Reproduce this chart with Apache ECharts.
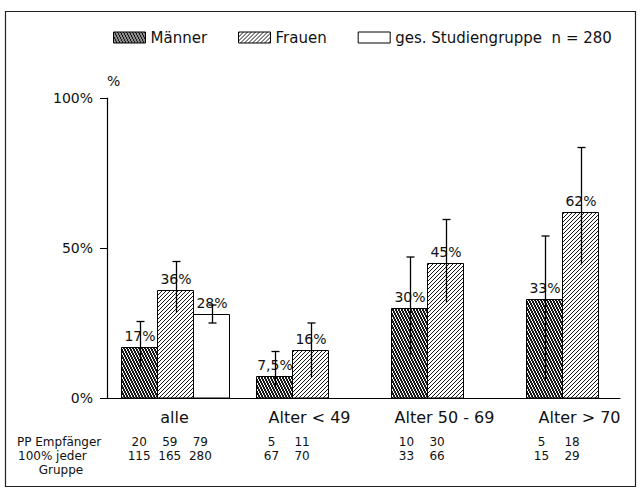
<!DOCTYPE html>
<html><head><meta charset="utf-8">
<script src="https://cdn.jsdelivr.net/npm/echarts@6/dist/echarts.min.js"></script>
<style>html,body{margin:0;padding:0;background:#fff}#c{width:640px;height:489px}</style>
</head><body><div id="c"></div>
<script>
// ---- data ----
const categories = ['alle', 'Alter < 49', 'Alter 50 - 69', 'Alter > 70'];
const yTicks = [0, 50, 100];
const maenner = [17, 7.5, 30, 33];
const maennerLow = [10.5, 3, 14.5, 6];
const maennerHigh = [25.5, 15.5, 47, 54];
const frauen = [36, 16, 45, 62];
const frauenLow = [28.5, 7, 32, 44.5];
const frauenHigh = [45.5, 25, 59.5, 83.5];
const gesamt = [28, null, null, null];
const gesamtLow = [25, null, null, null];
const gesamtHigh = [31, null, null, null];
const maennerPP = [20, 5, 10, 5];
const frauenPP = [59, 11, 30, 18];
const gesamtPP = [79, null, null, null];
const maennerN = [115, 67, 33, 15];
const frauenN = [165, 70, 66, 29];
const gesamtN = [280, null, null, null];
const seriesNames = ['Männer', 'Frauen', 'ges. Studiengruppe  n = 280'];
const rowLabels = ['PP Empfänger', '100% jeder', 'Gruppe'];

// ---- patterns ----
function hatch(w, h, test) {
  const c = document.createElement('canvas'); c.width = w; c.height = h;
  const ctx = c.getContext('2d');
  const img = ctx.createImageData(w, h);
  for (let y = 0; y < h; y++) for (let x = 0; x < w; x++) {
    const v = test(x, y) ? 25 : 255; const i = (y * w + x) * 4;
    img.data[i] = v; img.data[i + 1] = v; img.data[i + 2] = v; img.data[i + 3] = 255;
  }
  ctx.putImageData(img, 0, 0);
  return { image: c, repeat: 'repeat', imageWidth: w, imageHeight: h };
}
const patM = hatch(3, 6, (x, y) => ((((2 * x - y) % 6) + 6) % 6) < 4);
const patF = hatch(4, 4, (x, y) => (x + y) % 4 === 0);
const pats = [patM, patF, '#ffffff'];

const FONT = '"DejaVu Sans", "Liberation Sans", sans-serif';
const slotFrac = 36 / 135;
const fmt = v => String(v).replace('.', ',') + '%';
const ROW1 = 442, ROW2 = 456, ROW3 = 470;

function makeSeries(k, vals, lows, highs, pps, ns) {
  const data = [];
  categories.forEach((c, i) => {
    if (vals[i] != null) data.push([i + 0.5, vals[i], lows[i], highs[i], pps[i], ns[i], i]);
  });
  return {
    type: 'custom', name: seriesNames[k], data: data, encode: { x: 0, y: 1 },
    itemStyle: { color: pats[k], borderColor: '#000', borderWidth: 1 },
    renderItem: function (params, api) {
      const xv = api.value(0), yv = api.value(1);
      const base = api.coord([xv, 0]);
      const top = api.coord([xv, yv]);
      const w = api.size([1, 0])[0] * slotFrac;
      const x0 = Math.round(base[0] + (k - 1.5) * w) + 0.5;
      const cx = Math.round(x0 + w / 2);
      const yl = api.coord([xv, api.value(2)])[1];
      const yh = api.coord([xv, api.value(3)])[1];
      const ci = api.value(6);
      const nBars = gesamt[ci] != null ? 3 : 2;
      const mean = base[0] + (nBars === 3 ? 0 : -0.5) * w;
      const tx = mean + (cx - mean) * 0.85 - 6;
      const children = [
        { type: 'rect', shape: { x: x0, y: Math.round(top[1]) + 0.5, width: Math.round(w), height: base[1] - Math.round(top[1]) - 0.5 },
          style: { fill: pats[k], stroke: '#000', lineWidth: 1 } },
        { type: 'text', style: { text: fmt(yv), x: cx, y: top[1] - 4, textAlign: 'center', textVerticalAlign: 'bottom',
          font: '14px ' + FONT, fill: '#111' } },
        { type: 'line', shape: { x1: cx + 0.5, y1: yh, x2: cx + 0.5, y2: yl }, style: { stroke: '#000', lineWidth: 1.3 } },
        { type: 'line', shape: { x1: cx - 3.5, y1: yh, x2: cx + 4.5, y2: yh }, style: { stroke: '#000', lineWidth: 1.3 } },
        { type: 'text', style: { text: String(api.value(4)), x: tx, y: ROW1, textAlign: 'center', textVerticalAlign: 'middle',
          font: '12px ' + FONT, fill: '#111' } },
        { type: 'text', style: { text: String(api.value(5)), x: tx, y: ROW2, textAlign: 'center', textVerticalAlign: 'middle',
          font: '12px ' + FONT, fill: '#111' } }
      ];
      if (k === 2) {
        children.push({ type: 'line', shape: { x1: cx - 3.5, y1: yl, x2: cx + 4.5, y2: yl }, style: { stroke: '#000', lineWidth: 1.3 } });
      }
      return { type: 'group', children: children };
    }
  };
}

const chart = echarts.init(document.getElementById('c'), null, { renderer: 'svg' });
chart.setOption({
  animation: false,
  backgroundColor: '#fff',
  grid: { left: 107, right: 20, top: 98, bottom: 91 },
  legend: {
    left: 108, top: 25, itemWidth: 32, itemHeight: 11, itemGap: 31, icon: 'rect', selectedMode: false,
    textStyle: { fontFamily: FONT, fontSize: 15, color: '#111' },
    data: seriesNames.map((n, k) => ({ name: n, icon: 'rect', itemStyle: { color: pats[k], borderColor: '#000', borderWidth: 1 } }))
  },
  xAxis: {
    type: 'value', min: 0, max: 3.8, interval: 0.5,
    axisLine: { show: true, lineStyle: { color: '#000', width: 1.2 } },
    axisTick: { show: false }, splitLine: { show: false },
    axisLabel: {
      margin: 11, fontFamily: FONT, fontSize: 16, color: '#111', showMinLabel: true, showMaxLabel: true,
      formatter: function (v) {
        const d = v * 2, r = Math.round(d);
        if (Math.abs(d - r) > 1e-6 || r % 2 !== 1) return '';
        return categories[(r - 1) / 2] || '';
      }
    }
  },
  yAxis: {
    type: 'value', min: yTicks[0], max: yTicks[yTicks.length - 1], interval: yTicks[1] - yTicks[0],
    name: '%', nameLocation: 'end', nameGap: 10,
    nameTextStyle: { fontFamily: FONT, fontSize: 14, color: '#111', align: 'left' },
    axisLine: { show: true, lineStyle: { color: '#000', width: 1.2 } },
    axisTick: { show: true, length: 7, lineStyle: { color: '#000' } },
    splitLine: { show: false },
    axisLabel: { margin: 14, fontFamily: FONT, fontSize: 14, color: '#111', formatter: '{value}%' }
  },
  graphic: [
    { type: 'rect', shape: { x: 5.5, y: 11.5, width: 630, height: 475 }, style: { fill: 'none', stroke: '#222', lineWidth: 1.2 }, silent: true },
    { type: 'text', x: 17, y: ROW1, style: { text: rowLabels[0], font: '12px ' + FONT, fill: '#111', textVerticalAlign: 'middle' } },
    { type: 'text', x: 18, y: ROW2, style: { text: rowLabels[1], font: '12px ' + FONT, fill: '#111', textVerticalAlign: 'middle' } },
    { type: 'text', x: 61, y: ROW3, style: { text: rowLabels[2], font: '12px ' + FONT, fill: '#111', textAlign: 'center', textVerticalAlign: 'middle' } }
  ],
  series: [
    makeSeries(0, maenner, maennerLow, maennerHigh, maennerPP, maennerN),
    makeSeries(1, frauen, frauenLow, frauenHigh, frauenPP, frauenN),
    makeSeries(2, gesamt, gesamtLow, gesamtHigh, gesamtPP, gesamtN)
  ]
});
</script>
</body></html>
